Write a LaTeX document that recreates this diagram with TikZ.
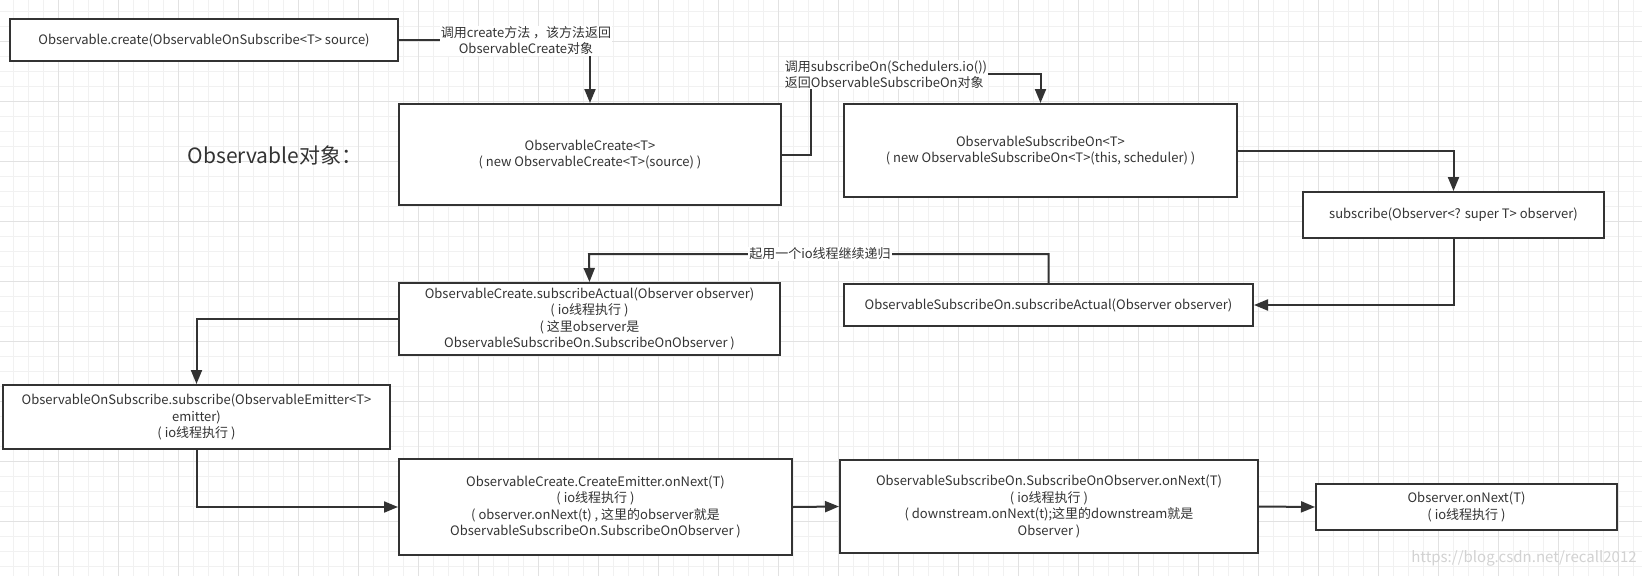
\documentclass[tikz,border=0pt]{standalone}
\usepackage{fontspec}
\setmainfont{Noto Sans CJK SC}
\usetikzlibrary{arrows.meta}

\definecolor{ink}{HTML}{333333}
\definecolor{gridminor}{HTML}{F1F1F1}
\definecolor{gridmajor}{HTML}{E2E2E2}

\tikzset{
    box/.style={draw=ink, fill=white, line width=2pt, text=ink, align=center,
        inner sep=2pt, font=\fontsize{13}{16.5}\selectfont},
    note/.style={fill=white, text=ink, align=center, inner sep=1pt,
        font=\fontsize{13}{16}\selectfont},
    link/.style={draw=ink, line width=2pt},
}

\begin{document}
\begin{tikzpicture}[x=1pt, y=-1pt, >={Triangle[length=14pt,width=11pt]}]
    \useasboundingbox (0, 0) rectangle (1642, 576);
    \fill [white] (0, 0) rectangle (1642, 576);

    % grid paper
    \foreach \k in {0,...,108}
        \draw [gridminor, line width=1pt] (13+15*\k, 0) -- (13+15*\k, 576);
    \foreach \k in {0,...,37}
        \draw [gridminor, line width=1pt] (0, 11.7+15*\k) -- (1642, 11.7+15*\k);
    \foreach \k in {0,...,26}
        \draw [gridmajor, line width=1pt] (58+60*\k, 0) -- (58+60*\k, 576);
    \foreach \k in {0,...,8}
        \draw [gridmajor, line width=1pt] (0, 41.7+60*\k) -- (1642, 41.7+60*\k);

    \path (275, 155) node [text=ink, font=\fontsize{21}{24}\selectfont] (title) {Observable对象：};

    % boxes
    \path (204, 40) node [box, minimum width=388, minimum height=42] (create)
        {Observable.create(ObservableOnSubscribe<T> source)};
    \path (590, 154.5) node [box, minimum width=382, minimum height=101] (obc)
        {ObservableCreate<T>\\( new ObservableCreate<T>(source) )};
    \path (1040.5, 150.5) node [box, minimum width=393, minimum height=93] (obs)
        {ObservableSubscribeOn<T>\\( new ObservableSubscribeOn<T>(this, scheduler) )};
    \path (1453.5, 215) node [box, minimum width=301, minimum height=46] (sub)
        {subscribe(Observer<? super T> observer)};
    \path (1048.5, 305) node [box, minimum width=409, minimum height=42] (obsact)
        {ObservableSubscribeOn.subscribeActual(Observer observer)};
    \path (589.5, 319) node [box, minimum width=381, minimum height=72] (obcact)
        {ObservableCreate.subscribeActual(Observer observer)\\( io线程执行 )\\( 这里observer是\\ObservableSubscribeOn.SubscribeOnObserver )};
    \path (196.5, 417) node [box, minimum width=387, minimum height=64] (onsub)
        {ObservableOnSubscribe.subscribe(ObservableEmitter<T>\\emitter)\\( io线程执行 )};
    \path (595.5, 507) node [box, minimum width=393, minimum height=96] (emit)
        {ObservableCreate.CreateEmitter.onNext(T)\\( io线程执行 )\\( observer.onNext(t) , 这里的observer就是\\ObservableSubscribeOn.SubscribeOnObserver )};
    \path (1049, 506.5) node [box, minimum width=418, minimum height=93] (sonext)
        {ObservableSubscribeOn.SubscribeOnObserver.onNext(T)\\( io线程执行 )\\( downstream.onNext(t);这里的downstream就是\\Observer )};
    \path (1466.5, 507) node [box, minimum width=301, minimum height=46] (onext)
        {Observer.onNext(T)\\( io线程执行 )};

    % connectors
    \draw [link, ->] (create.east) -| (obc.north);
    \path (526, 41) node [note] (n1) {调用create方法 ，该方法返回\\ObservableCreate对象};

    \coordinate (k2) at (811, 74);
    \draw [link, ->] (obc.east) -| (k2) -| (obs.north);
    \path (886, 74.5) node [note, align=left] (n2) {调用subscribeOn(Schedulers.io())\\返回ObservableSubscribeOn对象};

    \draw [link, ->] (obs.east) -| (sub.north);
    \draw [link, ->] (sub.south) |- (obsact.east);

    \coordinate (k5) at (589, 254);
    \draw [link, ->] (obsact.north) |- (k5) -- (obcact.north);
    \path (820, 254) node [note] (n5) {起用一个io线程继续递归};

    \draw [link, ->] (obcact.west) -| (onsub.north);
    \draw [link, ->] (onsub.south) |- (emit.west);
    \draw [link, ->] (emit.east) -- (sonext.west);
    \draw [link, ->] (sonext.east) -- (onext.west);

    \path (1524, 558) node [text=gray!35, font=\fontsize{15}{18}\selectfont] (mark) {https://blog.csdn.net/recall2012};
\end{tikzpicture}
\end{document}
